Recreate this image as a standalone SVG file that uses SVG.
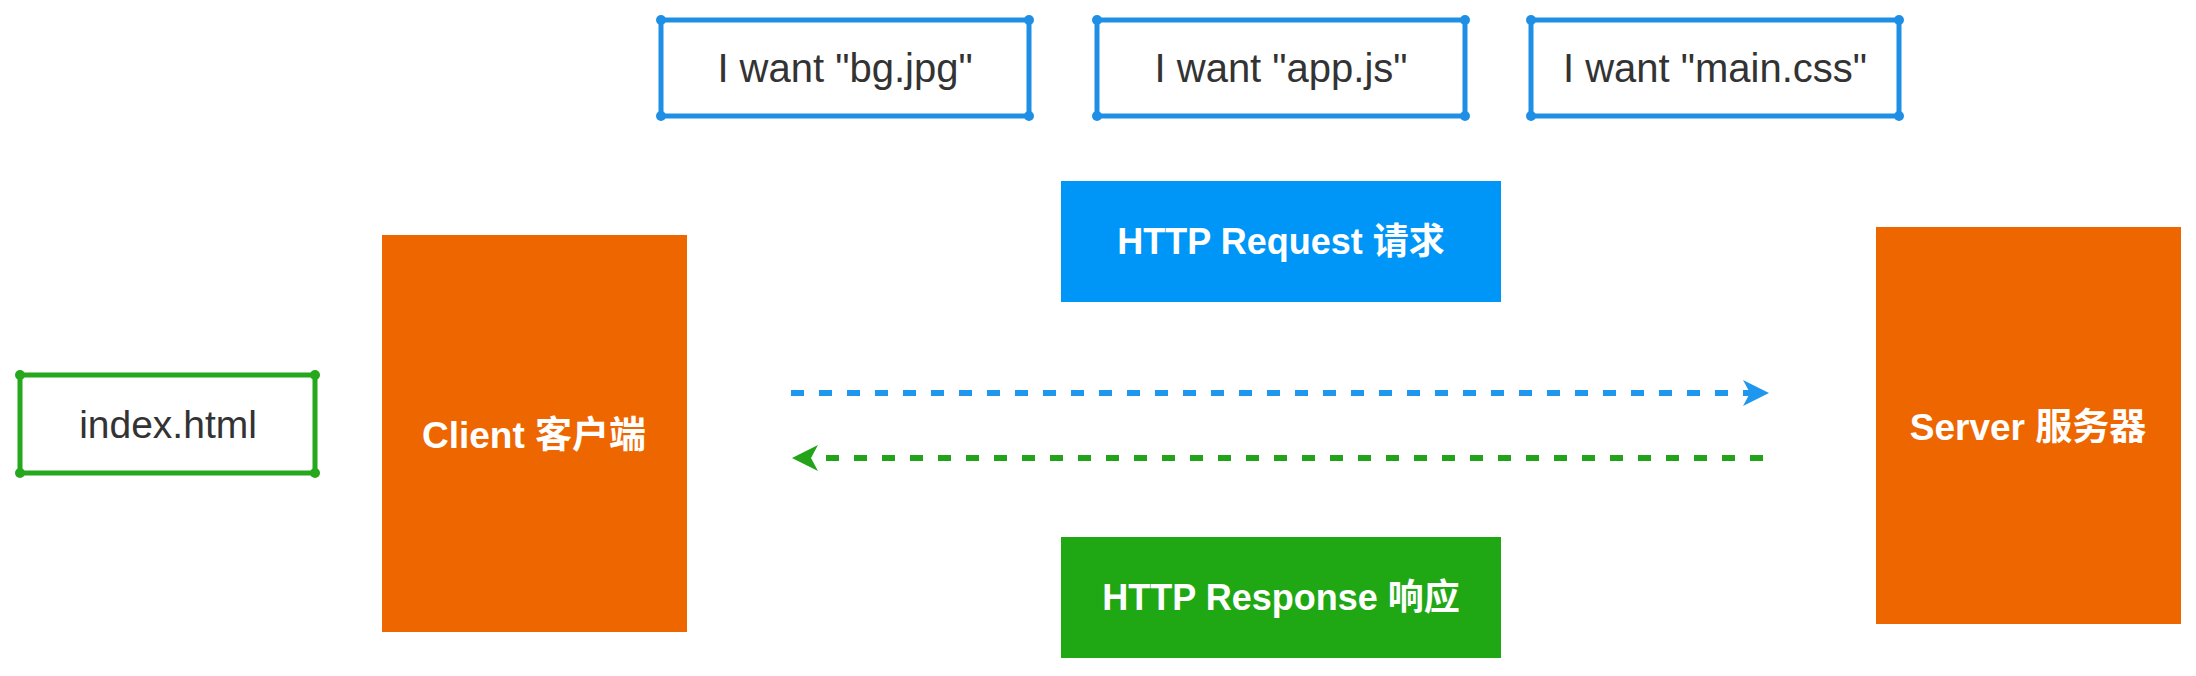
<svg xmlns="http://www.w3.org/2000/svg" width="2196" height="676" viewBox="0 0 2196 676">
  <style>
    .bg { fill: #ffffff; }
    .want { fill: #ffffff; stroke: #1f8fe6; stroke-width: 5; stroke-linejoin: round; }
    .wantDot { fill: #1f8fe6; }
    .file { fill: #ffffff; stroke: #25a81c; stroke-width: 5; stroke-linejoin: round; }
    .fileDot { fill: #25a81c; }
    .dark { font-family: "Liberation Sans", "Noto Sans CJK SC", sans-serif; font-size: 40px; fill: #333333; text-anchor: middle; }
    .light { font-family: "Liberation Sans", "Noto Sans CJK SC", sans-serif; font-weight: bold; fill: #ffffff; text-anchor: middle; }
    .orange { fill: #ee6600; }
    .req { fill: #0096f8; }
    .res { fill: #20a814; }
    .reqLine { stroke: #1f97ee; stroke-width: 6; stroke-dasharray: 13 15; fill: none; }
    .resLine { stroke: #22a31a; stroke-width: 6; stroke-dasharray: 13 15; fill: none; }
  </style>
  <defs>
    <marker id="arrowBlue" viewBox="-8 -14 28 28" refX="0" refY="0" markerWidth="28" markerHeight="28" markerUnits="userSpaceOnUse" orient="auto">
      <path d="M19,0 L-7,-13 L0,0 L-7,13 Z" fill="#1f97ee"/>
    </marker>
    <marker id="arrowGreen" viewBox="-8 -14 28 28" refX="0" refY="0" markerWidth="28" markerHeight="28" markerUnits="userSpaceOnUse" orient="auto">
      <path d="M19,0 L-7,-13 L0,0 L-7,13 Z" fill="#22a31a"/>
    </marker>
  </defs>
  <rect class="bg" x="0" y="0" width="2196" height="676"/>

  <g id="want-bg">
    <rect class="want" x="661" y="20" width="368" height="96"/>
    <circle class="wantDot" cx="661" cy="20" r="5"/><circle class="wantDot" cx="1029" cy="20" r="5"/>
    <circle class="wantDot" cx="661" cy="116" r="5"/><circle class="wantDot" cx="1029" cy="116" r="5"/>
    <text class="dark" x="845" y="82">I want "bg.jpg"</text>
  </g>
  <g id="want-app">
    <rect class="want" x="1097" y="20" width="368" height="96"/>
    <circle class="wantDot" cx="1097" cy="20" r="5"/><circle class="wantDot" cx="1465" cy="20" r="5"/>
    <circle class="wantDot" cx="1097" cy="116" r="5"/><circle class="wantDot" cx="1465" cy="116" r="5"/>
    <text class="dark" x="1281" y="82">I want "app.js"</text>
  </g>
  <g id="want-css">
    <rect class="want" x="1531" y="20" width="368" height="96"/>
    <circle class="wantDot" cx="1531" cy="20" r="5"/><circle class="wantDot" cx="1899" cy="20" r="5"/>
    <circle class="wantDot" cx="1531" cy="116" r="5"/><circle class="wantDot" cx="1899" cy="116" r="5"/>
    <text class="dark" x="1715" y="82">I want "main.css"</text>
  </g>

  <g id="index-html">
    <rect class="file" x="20" y="375" width="295" height="98"/>
    <circle class="fileDot" cx="20" cy="375" r="5"/><circle class="fileDot" cx="315" cy="375" r="5"/>
    <circle class="fileDot" cx="20" cy="473" r="5"/><circle class="fileDot" cx="315" cy="473" r="5"/>
    <text class="dark" x="168" y="438" style="font-size:39px">index.html</text>
  </g>

  <g id="client">
    <rect class="orange" x="382" y="235" width="305" height="397"/>
    <text class="light" x="534" y="448" style="font-size:37px">Client 客户端</text>
  </g>

  <g id="server">
    <rect class="orange" x="1876" y="227" width="305" height="397"/>
    <text class="light" x="2028" y="440" style="font-size:37px">Server 服务器</text>
  </g>

  <g id="http-request">
    <rect class="req" x="1061" y="181" width="440" height="121"/>
    <text class="light" x="1281" y="254" style="font-size:36px">HTTP Request 请求</text>
  </g>

  <g id="http-response">
    <rect class="res" x="1061" y="537" width="440" height="121"/>
    <text class="light" x="1281" y="610" style="font-size:36px">HTTP Response 响应</text>
  </g>

  <g id="connectors">
    <line class="reqLine" x1="791" y1="393" x2="1750" y2="393" marker-end="url(#arrowBlue)"/>
    <line class="resLine" x1="1763" y1="458" x2="811" y2="458" marker-end="url(#arrowGreen)"/>
  </g>
</svg>
